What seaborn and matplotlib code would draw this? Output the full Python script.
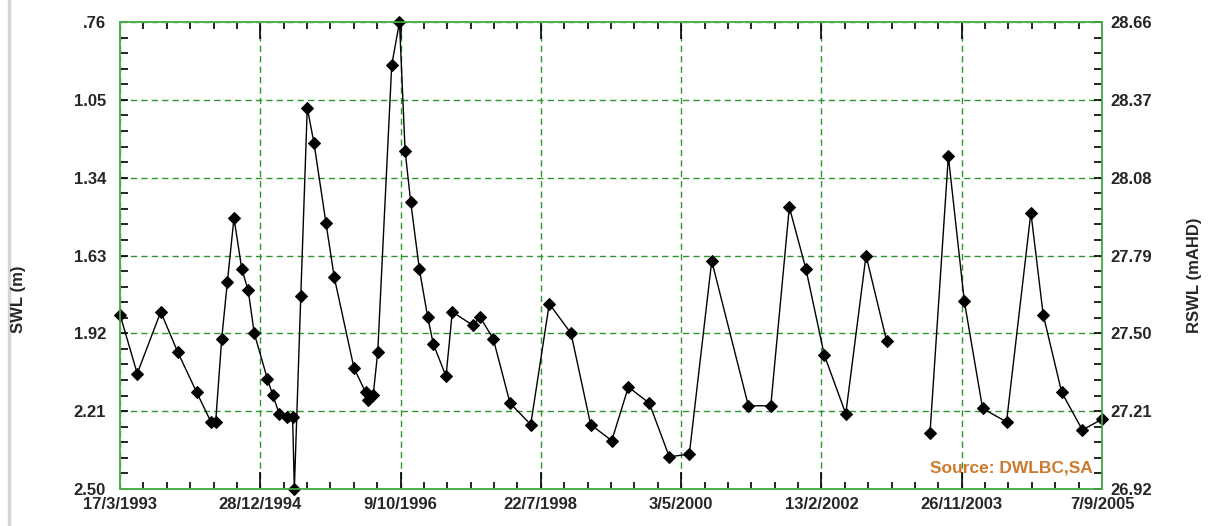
import pandas as pd
import numpy as np
import matplotlib
matplotlib.use("Agg")
import matplotlib.pyplot as plt
import matplotlib.dates as mdates
from matplotlib.lines import Line2D
import seaborn as sns

# Bore hydrograph: standing water level (SWL) readings
dates = [
    "1993-03-17", "1993-06-05", "1993-09-22", "1993-12-10", "1994-03-08",
    "1994-05-13", "1994-06-04", "1994-07-02", "1994-07-28", "1994-08-28",
    "1994-10-03", "1994-11-02", "1994-11-30", "1995-01-30", "1995-02-24",
    "1995-03-26", "1995-04-30", "1995-05-27", "1995-06-04", "1995-07-04",
    "1995-08-03", "1995-09-03", "1995-10-29", "1995-12-06", "1996-03-07",
    "1996-04-30", "1996-05-12", "1996-06-04", "1996-06-25", "1996-08-29",
    "1996-10-04", "1996-10-30", "1996-11-25", "1997-01-04", "1997-02-12",
    "1997-03-10", "1997-05-08", "1997-06-06", "1997-09-09", "1997-10-13",
    "1997-12-13", "1998-03-01", "1998-06-05", "1998-08-30", "1998-12-09",
    "1999-03-10", "1999-06-16", "1999-09-01", "1999-12-07", "2000-03-09",
    "2000-06-10", "2000-09-22", "2001-03-11", "2001-06-23", "2001-09-17",
    "2001-12-03", "2002-02-26", "2002-06-06", "2002-09-08", "2002-12-13",
    "2003-07-02", "2003-09-25", "2003-12-08", "2004-03-02", "2004-06-21",
    "2004-10-12", "2004-12-08", "2005-03-04", "2005-06-08", "2005-09-07",
]
swl = [
    1.85, 2.07, 1.84, 1.99, 2.14,
    2.25, 2.25, 1.94, 1.73, 1.49,
    1.68, 1.76, 1.92, 2.09, 2.15,
    2.22, 2.23, 2.23, 2.50, 1.78,
    1.08, 1.21, 1.51, 1.71, 2.05,
    2.14, 2.17, 2.15, 1.99, 0.92,
    0.76, 1.24, 1.43, 1.68, 1.86,
    1.96, 2.08, 1.84, 1.89, 1.86,
    1.94, 2.18, 2.26, 1.81, 1.92,
    2.26, 2.32, 2.12, 2.18, 2.38,
    2.37, 1.65, 2.19, 2.19, 1.45,
    1.68, 2.00, 2.22, 1.63, 1.95,
    2.29, 1.26, 1.80, 2.20, 2.25,
    1.47, 1.85, 2.14, 2.28, 2.24,
]
# no readings between these two dates -> line is broken
gap_start = "2002-12-13"

swl_ticks = [".76", "1.05", "1.34", "1.63", "1.92", "2.21", "2.50"]
rswl_ticks = ["28.66", "28.37", "28.08", "27.79", "27.50", "27.21", "26.92"]
date_ticks = ["17/3/1993", "28/12/1994", "9/10/1996", "22/7/1998",
              "3/5/2000", "13/2/2002", "26/11/2003", "7/9/2005"]

df = pd.DataFrame({"date": pd.to_datetime(dates), "swl": swl})
df["segment"] = np.where(df["date"] > pd.Timestamp(gap_start), 2, 1)

sns.set_theme(style="white")
plt.rcParams["font.family"] = ["Liberation Sans", "DejaVu Sans"]
plt.rcParams["font.weight"] = "bold"

spine_green = "#4cb04c"
grid_green = "#2f962f"

fig = plt.figure(figsize=(12.08, 5.26), dpi=100)
ax = fig.add_axes([120 / 1208, 37 / 526, 982 / 1208, 467 / 526])

sns.lineplot(data=df, x="date", y="swl", units="segment", estimator=None,
             color="black", linewidth=1.0, marker="D", markersize=6,
             markeredgecolor="black", ax=ax)
for ln in ax.lines:
    ln.set_clip_on(False)
    ln.set_zorder(5)

# y axis (SWL, depth below surface -> inverted)
y_major = [float(t) for t in swl_ticks]
ax.set_ylim(y_major[-1], y_major[0])
ax.set_yticks(y_major)
ax.set_yticklabels(swl_ticks)
ax.set_yticks(np.linspace(y_major[0], y_major[-1], 31), minor=True)

# x axis dates
x_major = [mdates.date2num(pd.to_datetime(t, dayfirst=True)) for t in date_ticks]
ax.set_xlim(x_major[0], x_major[-1])
ax.set_xticks(x_major)
ax.set_xticklabels(date_ticks)
ax.set_xticks(np.linspace(x_major[0], x_major[-1], 43), minor=True)

ax.set_xlabel("")
ax.set_ylabel("")

ax.grid(True, which="major", color=grid_green, linestyle=(0, (4.5, 3)), linewidth=1.0)
for s in ax.spines.values():
    s.set_color(spine_green)
    s.set_linewidth(1.2)

ax.tick_params(axis="x", which="major", direction="in", length=12, width=1.2,
               color="black", top=True, bottom=True, labelsize=12, pad=6)
ax.tick_params(axis="x", which="minor", direction="in", length=5, width=1.2,
               color="black", top=True, bottom=True)
ax.tick_params(axis="y", which="major", direction="in", length=6, width=1.2,
               color="black", left=True, right=False, labelsize=12, pad=10)
ax.tick_params(axis="y", which="minor", direction="in", length=6, width=1.2,
               color="black", left=True, right=False)
for lbl in ax.get_xticklabels() + ax.get_yticklabels():
    lbl.set_fontweight("bold")

# right axis (RSWL, mAHD)
ax2 = ax.twinx()
r_major = [float(t) for t in rswl_ticks]
ax2.set_ylim(r_major[-1], r_major[0])
ax2.set_yticks(r_major)
ax2.set_yticklabels(rswl_ticks)
ax2.set_yticks(np.linspace(r_major[-1], r_major[0], 31), minor=True)
ax2.tick_params(axis="y", which="both", direction="in", length=6, width=1.2,
                color="black", labelsize=12, pad=6)
for lbl in ax2.get_yticklabels():
    lbl.set_fontweight("bold")
for s in ax2.spines.values():
    s.set_color(spine_green)
    s.set_linewidth(1.2)

fig.text(18 / 1208, 193 / 526, "SWL (m)", rotation=90, ha="center", va="bottom",
         fontsize=12, fontweight="bold")
fig.text(1195 / 1208, 193 / 526, "RSWL (mAHD)", rotation=90, ha="center", va="bottom",
         fontsize=12, fontweight="bold")

ax.text(0.991, 0.045, "Source: DWLBC,SA", transform=ax.transAxes, ha="right",
        va="center", fontsize=12.5, fontweight="bold", color="#cc7a2e")

# light grey border on the left edge of the original image
fig.add_artist(Line2D([9 / 1208, 9 / 1208], [0, 1], transform=fig.transFigure,
                      color="#d4d4d4", linewidth=2.5))

fig.savefig("out.png", dpi=100)
